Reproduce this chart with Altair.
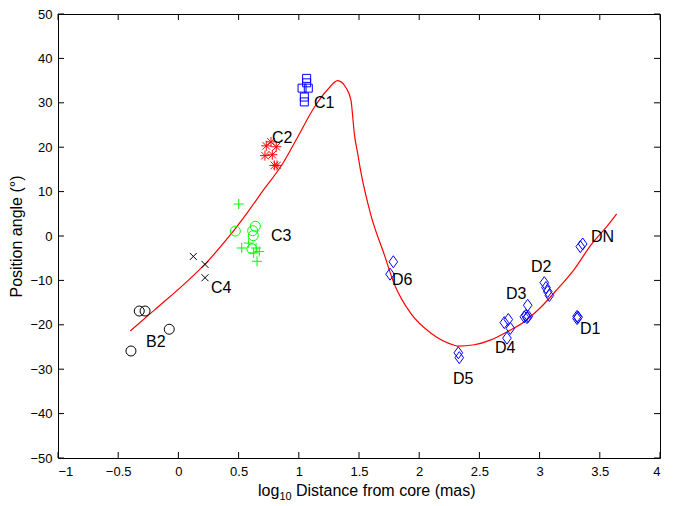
import altair as alt
import pandas as pd

# ---- data ----
curve_x = [-0.400, -0.200, 0.077, 0.243, 0.409, 0.576, 0.713, 0.852, 0.991, 1.129, 1.240,
           1.323, 1.392, 1.434, 1.448, 1.461, 1.489, 1.517, 1.600, 1.710, 1.793, 1.932,
           2.098, 2.292, 2.320, 2.458, 2.596, 2.735, 2.873, 3.012, 3.150, 3.288, 3.427,
           3.566, 3.640]
curve_y = [-21.4, -16.7, -10.1, -5.7, -0.5, 5.4, 10.6, 15.7, 22.3, 29.0, 33.0,
           35.0, 33.4, 30.5, 26.8, 23.1, 18.6, 14.2, 4.6, -4.2, -10.8, -17.5,
           -21.9, -24.6, -24.8, -24.5, -23.4, -21.5, -19.3, -16.0, -11.9, -7.5, -2.0,
           2.4, 5.0]

b2_x = [-0.325, -0.277, -0.076, -0.394]
b2_y = [-16.9, -16.9, -21.0, -25.9]

c4_x = [0.124, 0.221, 0.221]
c4_y = [-4.6, -6.4, -9.4]

c3o_x = [0.473, 0.639, 0.617, 0.622, 0.611]
c3o_y = [1.1, 2.2, 1.2, 0.07, -2.9]

c3p_x = [0.501, 0.526, 0.584, 0.645, 0.672, 0.625, 0.653]
c3p_y = [7.2, -2.7, -1.6, -2.7, -3.5, -3.8, -5.7]

c2_x = [0.730, 0.769, 0.813, 0.719, 0.780, 0.797, 0.819]
c2_y = [20.3, 21.2, 20.1, 18.1, 18.3, 15.9, 15.9]

c1_x = [1.065, 1.065, 1.027, 1.079, 1.046, 1.046]
c1_y = [35.5, 34.5, 33.3, 33.3, 31.3, 30.2]

d_x = [1.785, 1.758, 2.325, 2.333, 2.707, 2.740, 2.757, 2.729,
       2.901, 2.887, 2.895, 2.873, 2.906, 3.039, 3.053, 3.067, 3.081,
       3.311, 3.311, 3.320, 3.338, 3.358]
d_y = [-5.8, -8.6, -26.3, -27.4, -19.5, -18.8, -20.8, -23.0,
       -15.6, -17.9, -18.4, -18.2, -18.1, -10.5, -11.6, -12.5, -13.4,
       -18.1, -18.6, -18.3, -2.4, -1.8]

label_text = ["C1", "C2", "C3", "C4", "B2", "D6", "D5", "D4", "D3", "D2", "D1", "DN"]
label_x = [1.126, 0.777, 0.769, 0.271, -0.269, 1.774, 2.281, 2.630, 2.721, 2.929, 3.336, 3.427]
label_y = [29.9, 22.1, 0.0, -11.7, -23.9, -10.0, -32.1, -25.2, -13.1, -6.9, -21.0, -0.2]

x_ticks = [-1, -0.5, 0, 0.5, 1, 1.5, 2, 2.5, 3, 3.5, 4]
y_ticks = [-50, -40, -30, -20, -10, 0, 10, 20, 30, 40, 50]

# ---- chart ----
W, H = 602, 444
FONT = "Liberation Sans"
xs = alt.Scale(domain=[-1, 4], nice=False, zero=False)
ys = alt.Scale(domain=[-50, 50], nice=False, zero=False)
x_axis = alt.Axis(values=x_ticks, format="~g", tickSize=0, domain=False, grid=False,
                  labelPadding=7, labelFontSize=13, labelFont=FONT, labelColor="black",
                  title=None)
y_axis = alt.Axis(values=y_ticks, format="d", tickSize=0, domain=False, grid=False,
                  labelPadding=6, labelFontSize=13, labelFont=FONT, labelColor="black",
                  title="Position angle (°)", titleFont=FONT, titleFontSize=16,
                  titleFontWeight="normal", titleColor="black", titlePadding=5)


def X(field="x"):
    return alt.X(f"{field}:Q", scale=xs, axis=x_axis)


def Y(field="y"):
    return alt.Y(f"{field}:Q", scale=ys, axis=y_axis)


curve = alt.Chart(pd.DataFrame({"x": curve_x, "y": curve_y})).mark_line(
    color="#ff0000", strokeWidth=1.2, interpolate="monotone"
).encode(x=X(), y=Y())

SHAPE_X = "M-1,-1L1,1M-1,1L1,-1"
SHAPE_PLUS = "M-1,0L1,0M0,-1L0,1"
SHAPE_AST = "M-1,0L1,0M0,-1L0,1M-0.75,-0.75L0.75,0.75M-0.75,0.75L0.75,-0.75"
SHAPE_DIAM = "M0,-1L0.72,0L0,1L-0.72,0Z"


def pts(xv, yv, shape, color, size, sw=1):
    return alt.Chart(pd.DataFrame({"x": xv, "y": yv})).mark_point(
        shape=shape, filled=False, color=color, size=size, strokeWidth=sw, opacity=1
    ).encode(x=X(), y=Y())


layers = [
    curve,
    pts(b2_x, b2_y, "circle", "black", 100),
    pts(c4_x, c4_y, SHAPE_X, "black", 49),
    pts(c3o_x, c3o_y, "circle", "#00ff00", 100),
    pts(c3p_x, c3p_y, SHAPE_PLUS, "#00ff00", 100),
    pts(c2_x, c2_y, SHAPE_AST, "#ff0000", 100),
    pts(c1_x, c1_y, "square", "#0000ff", 64),
    pts(d_x, d_y, SHAPE_DIAM, "#0000ff", 144),
]

labels = alt.Chart(pd.DataFrame({"x": label_x, "y": label_y, "t": label_text})).mark_text(
    align="left", baseline="middle", font=FONT, fontSize=16, color="black"
).encode(x=X(), y=Y(), text="t:N")
layers.append(labels)

# inward ticks on all four sides (MATLAB style)
xt = pd.DataFrame({"x": x_ticks})
yt = pd.DataFrame({"y": y_ticks})
TL = 6
layers += [
    alt.Chart(xt).mark_rule(color="black", strokeWidth=1).encode(x=X(), y=alt.value(H), y2=alt.value(H - TL)),
    alt.Chart(xt).mark_rule(color="black", strokeWidth=1).encode(x=X(), y=alt.value(0), y2=alt.value(TL)),
    alt.Chart(yt).mark_rule(color="black", strokeWidth=1).encode(y=Y(), x=alt.value(0), x2=alt.value(TL)),
    alt.Chart(yt).mark_rule(color="black", strokeWidth=1).encode(y=Y(), x=alt.value(W), x2=alt.value(W - TL)),
]

# x-axis title with subscript
TY = H + 33
layers += [
    alt.Chart(pd.DataFrame({"t": ["log"]})).mark_text(
        align="left", baseline="middle", font=FONT, fontSize=16, color="black"
    ).encode(x=alt.value(200), y=alt.value(TY), text="t:N"),
    alt.Chart(pd.DataFrame({"t": ["10"]})).mark_text(
        align="left", baseline="middle", font=FONT, fontSize=11, color="black"
    ).encode(x=alt.value(221.5), y=alt.value(TY + 6), text="t:N"),
    alt.Chart(pd.DataFrame({"t": ["Distance from core (mas)"]})).mark_text(
        align="left", baseline="middle", font=FONT, fontSize=16, color="black"
    ).encode(x=alt.value(238), y=alt.value(TY), text="t:N"),
]

chart = alt.layer(*layers).properties(
    width=W, height=H,
    padding={"left": 0, "top": 0, "right": 5, "bottom": 0},
    background="white",
).configure_view(stroke="black", strokeWidth=1)

chart.save("out.html", embed_options={"renderer": "svg", "actions": False})
